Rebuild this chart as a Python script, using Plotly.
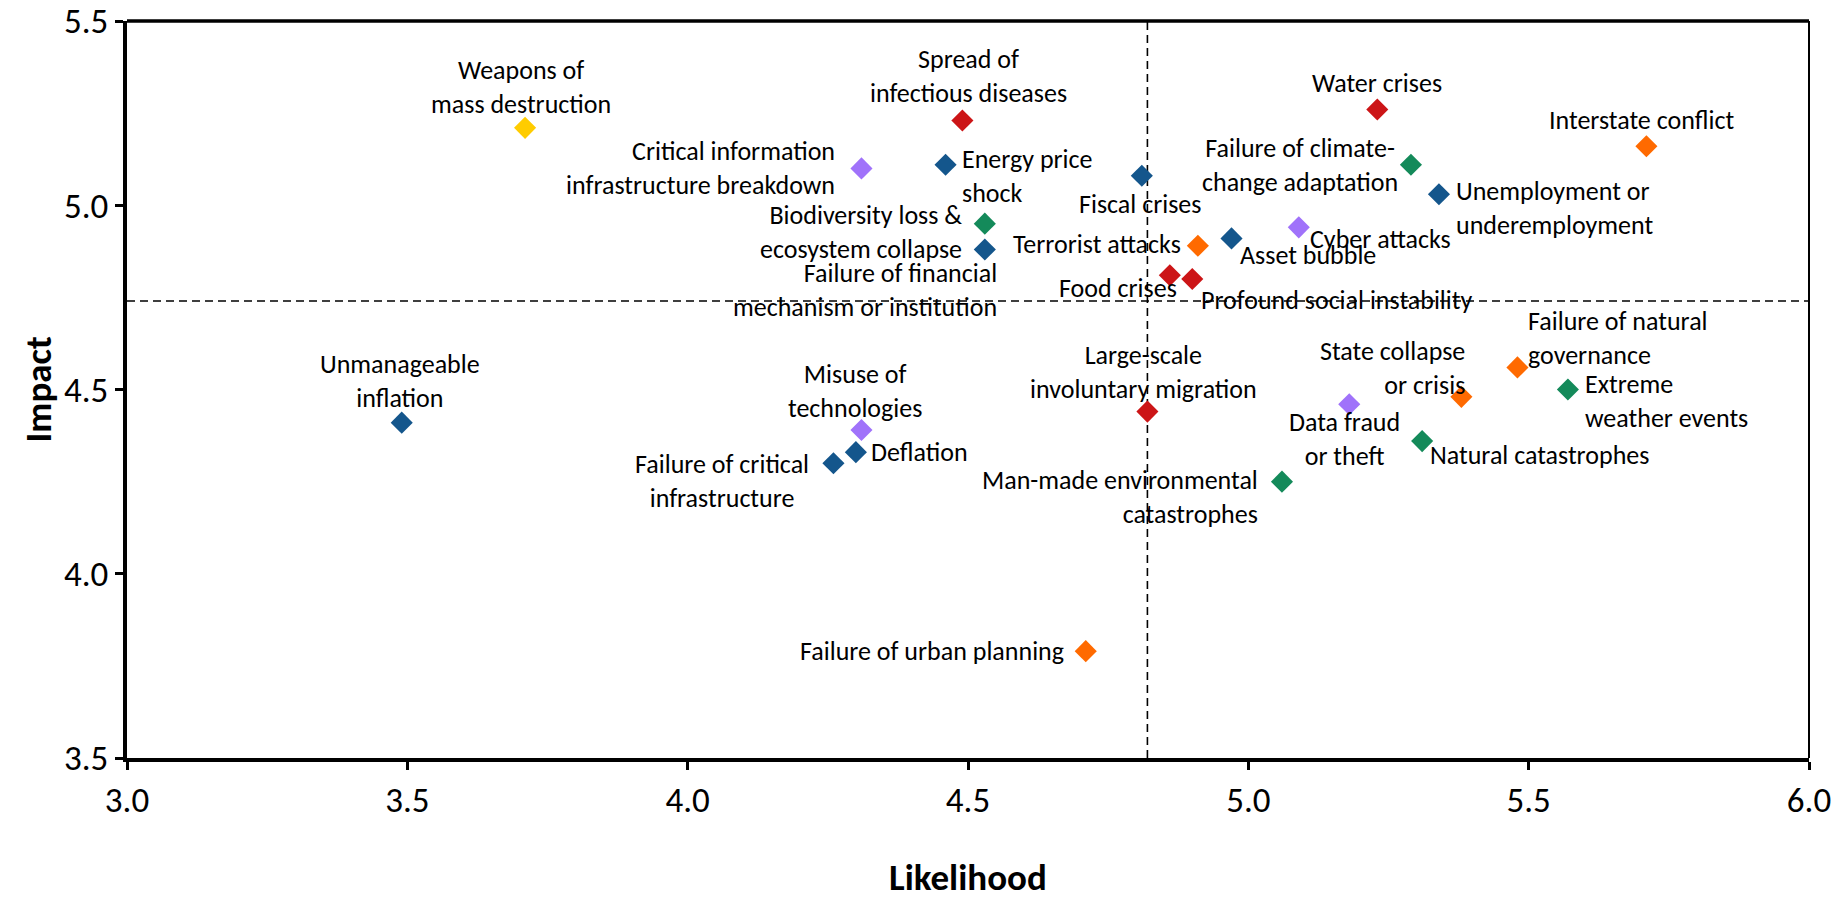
import plotly.graph_objects as go

# ---------------- data ----------------
names = [
    "Weapons of<br>mass destruction",
    "Spread of<br>infectious diseases",
    "Critical information<br>infrastructure breakdown",
    "Energy price<br>shock",
    "Fiscal crises",
    "Water crises",
    "Interstate conflict",
    "Failure of climate-<br>change adaptation",
    "Unemployment or<br>underemployment",
    "Biodiversity loss &<br>ecosystem collapse",
    "Failure of financial<br>mechanism or institution",
    "Terrorist attacks",
    "Asset bubble",
    "Cyber attacks",
    "Food crises",
    "Profound social instability",
    "Unmanageable<br>inflation",
    "Misuse of<br>technologies",
    "Deflation",
    "Failure of critical<br>infrastructure",
    "Large-scale<br>involuntary migration",
    "Man-made environmental<br>catastrophes",
    "Data fraud<br>or theft",
    "State collapse<br>or crisis",
    "Failure of natural<br>governance",
    "Extreme<br>weather events",
    "Natural catastrophes",
    "Failure of urban planning",
]
likelihood = [3.71, 4.49, 4.31, 4.46, 4.81, 5.23, 5.71, 5.29, 5.34, 4.53,
              4.53, 4.91, 4.97, 5.09, 4.86, 4.90, 3.49, 4.31, 4.30, 4.26,
              4.82, 5.06, 5.18, 5.38, 5.48, 5.57, 5.31, 4.71]
impact = [5.21, 5.23, 5.10, 5.11, 5.08, 5.26, 5.16, 5.11, 5.03, 4.95,
          4.88, 4.89, 4.91, 4.94, 4.81, 4.80, 4.41, 4.39, 4.33, 4.30,
          4.44, 4.25, 4.46, 4.48, 4.56, 4.50, 4.36, 3.79]
category = ["WMD", "Societal", "Technological", "Economic", "Economic", "Societal",
            "Geopolitical", "Environmental", "Economic", "Environmental",
            "Economic", "Geopolitical", "Economic", "Technological", "Societal",
            "Societal", "Economic", "Technological", "Economic", "Economic",
            "Societal", "Environmental", "Technological", "Geopolitical",
            "Geopolitical", "Environmental", "Environmental", "Geopolitical"]
likelihood_avg = 4.82
impact_avg = 4.74
x_ticks = [3.0, 3.5, 4.0, 4.5, 5.0, 5.5, 6.0]
y_ticks = [3.5, 4.0, 4.5, 5.0, 5.5]

# ---------------- styles ----------------
colors = {
    "WMD": "#FFCC00",
    "Societal": "#CC1517",
    "Technological": "#A072FA",
    "Economic": "#14568C",
    "Environmental": "#148A5A",
    "Geopolitical": "#FF6A00",
}
# label placement: anchor, dx, dy (screen px, + = down), align
label_pos = [
    ("center", -4, -41, "center"),
    ("center", 6, -44, "center"),
    ("right", -24, 0, "right"),
    ("left", 14, 11, "left"),
    ("center", -2, 28, "center"),
    ("center", 0, -26, "center"),
    ("center", -5, -26, "center"),
    ("right", -11, 0, "center"),
    ("left", 15, 14, "left"),
    ("right", -21, 8, "right"),
    ("right", 14, 41, "right"),
    ("right", -15, -2, "right"),
    ("left", 6, 17, "left"),
    ("left", 9, 12, "left"),
    ("right", 9, 13, "right"),
    ("left", 7, 21, "left"),
    ("center", -2, -42, "center"),
    ("center", -6, -39, "center"),
    ("left", 13, 0, "left"),
    ("right", -22, 18, "center"),
    ("center", -4, -40, "center"),
    ("right", -22, 15, "right"),
    ("center", -5, 35, "center"),
    ("right", 6, -29, "right"),
    ("left", 9, -29, "left"),
    ("left", 15, 11, "left"),
    ("left", 6, 14, "left"),
    ("right", -20, 0, "right"),
]

FONT = "Calibri, Carlito, 'Liberation Sans', Arial, sans-serif"

fig = go.Figure()
for cat, col in colors.items():
    idx = [i for i, c in enumerate(category) if c == cat]
    fig.add_trace(go.Scatter(
        x=[likelihood[i] for i in idx],
        y=[impact[i] for i in idx],
        mode="markers",
        marker=dict(symbol="diamond", size=17, color=col, line=dict(width=0)),
        name=cat,
        hovertext=[names[i].replace("<br>", " ") for i in idx],
        hoverinfo="text+x+y",
    ))

annotations = []
for i, nm in enumerate(names):
    anc, dx, dy, al = label_pos[i]
    annotations.append(dict(
        x=likelihood[i], y=impact[i], xref="x", yref="y",
        text=nm, showarrow=False, xanchor=anc, yanchor="middle",
        xshift=dx, yshift=-dy, align=al,
        font=dict(family=FONT, size=26, color="#000000"),
    ))

annotations.append(dict(
    x=0, y=0.5, xref="paper", yref="paper", text="<b>Impact</b>",
    textangle=-90, showarrow=False, xanchor="center", yanchor="middle",
    xshift=-89, font=dict(family=FONT, size=37, color="#000000"),
))
annotations.append(dict(
    x=0.5, y=0, xref="paper", yref="paper", text="<b>Likelihood</b>",
    showarrow=False, xanchor="center", yanchor="middle",
    yshift=-119, font=dict(family=FONT, size=37, color="#000000"),
))

shapes = [
    dict(type="line", xref="x", yref="y", x0=likelihood_avg, x1=likelihood_avg,
         y0=y_ticks[0], y1=y_ticks[-1], line=dict(color="#000000", width=1.6, dash="8px,5px"),
         layer="below"),
    dict(type="line", xref="x", yref="y", x0=x_ticks[0], x1=x_ticks[-1],
         y0=impact_avg, y1=impact_avg, line=dict(color="#000000", width=1.6, dash="8px,5px"),
         layer="below"),
    dict(type="line", xref="paper", yref="paper", x0=0, x1=1, y0=1, y1=1,
         line=dict(color="#000000", width=3.5)),
    dict(type="line", xref="paper", yref="paper", x0=1, x1=1, y0=0, y1=1,
         line=dict(color="#000000", width=2)),
]

axis_common = dict(
    showgrid=False, zeroline=False, showline=True, linecolor="#000000",
    linewidth=3.5, ticks="outside", ticklen=8, tickwidth=2.5,
    tickcolor="#000000", automargin=False, ticklabeloverflow="allow",
    tickfont=dict(family=FONT, size=35, color="#000000"),
)

fig.update_layout(
    width=1848, height=901,
    margin=dict(l=127, r=39, t=21, b=143, autoexpand=False),
    paper_bgcolor="white", plot_bgcolor="white",
    showlegend=False,
    annotations=annotations,
    shapes=shapes,
    font=dict(family=FONT, color="#000000"),
    xaxis=dict(range=[x_ticks[0], x_ticks[-1]], tickvals=x_ticks,
               ticktext=[f"{v:.1f}" for v in x_ticks], **axis_common),
    yaxis=dict(range=[y_ticks[0], y_ticks[-1]], tickvals=y_ticks,
               ticktext=[f"{v:.1f}" for v in y_ticks], **axis_common),
)

fig.write_html(
    "out.html",
    config={"displayModeBar": False},
    post_script="document.body.style.margin='0px';document.body.style.overflow='hidden';",
)
